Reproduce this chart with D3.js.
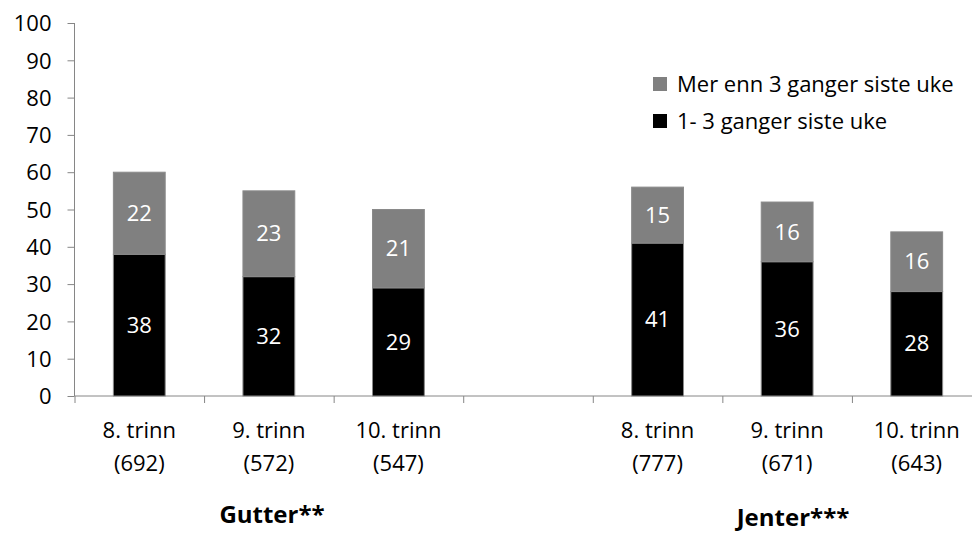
<!DOCTYPE html>
<html>
<head>
<meta charset="utf-8">
<script src="https://cdn.jsdelivr.net/npm/d3@7"></script>
<style>
  html, body { margin: 0; padding: 0; background: #fff; }
  svg text { font-family: "Open Sans", sans-serif; }
</style>
</head>
<body>
<svg id="chart" width="972" height="534"></svg>
<script>
// Stacked bars: share of pupils per grade, boys and girls
const groups = ["Gutter**", "Jenter***"];
const grades = ["8. trinn", "9. trinn", "10. trinn"];
const counts = ["(692)", "(572)", "(547)", "(777)", "(671)", "(643)"];
const seriesNames = ["Mer enn 3 ganger siste uke", "1- 3 ganger siste uke"];
const oneToThree = [38, 32, 29, 41, 36, 28];
const moreThanThree = [22, 23, 21, 15, 16, 16];
const yTicks = [0, 10, 20, 30, 40, 50, 60, 70, 80, 90, 100];

const svg = d3.select("#chart");
const axisColor = "#868686";
const fontSize = 22;

// Seven slots: three grades for boys, an empty slot, three grades for girls
const slots = ["g0", "g1", "g2", "gap", "j0", "j1", "j2"];
const barSlots = ["g0", "g1", "g2", "j0", "j1", "j2"];
const plotLeft = 74.5, plotRight = 981.5, plotTop = 23, plotBottom = 396;

const x = d3.scaleBand().domain(slots).range([plotLeft, plotRight])
  .paddingInner(0.6).paddingOuter(0.3);
const xEdge = d3.scaleLinear().domain([0, slots.length]).range([plotLeft, plotRight]);
const y = d3.scaleLinear().domain([0, 100]).range([plotBottom, plotTop]);

// Y axis
const yAxis = svg.append("g")
  .attr("transform", `translate(${plotLeft},0)`)
  .call(d3.axisLeft(y).tickValues(yTicks).tickSize(7).tickPadding(16));
yAxis.select(".domain").attr("stroke", axisColor).attr("d", `M0,${plotTop}V${plotBottom}`);
yAxis.selectAll(".tick line").attr("stroke", axisColor);
yAxis.selectAll(".tick text")
  .attr("fill", "#000").attr("font-size", fontSize)
  .attr("font-family", "Open Sans, sans-serif").attr("dy", "0.35em");

// X axis with ticks at slot boundaries
const xAxis = svg.append("g")
  .attr("transform", `translate(0,${plotBottom})`)
  .call(d3.axisBottom(xEdge).tickValues(d3.range(slots.length + 1)).tickSize(7).tickFormat(""));
xAxis.select(".domain").attr("stroke", axisColor).attr("d", `M${plotLeft},0H${plotRight}`);
xAxis.selectAll(".tick line").attr("stroke", axisColor);

// Stack layout
const rows = barSlots.map((s, i) => ({ slot: s, low: oneToThree[i], high: moreThanThree[i] }));
const stack = d3.stack().keys(["low", "high"])(rows);
const fills = { low: "#000000", high: "#808080" };

const layers = svg.append("g").selectAll("g")
  .data(stack).join("g")
  .attr("fill", d => fills[d.key]);

layers.selectAll("rect")
  .data(d => d)
  .join("rect")
  .attr("x", d => x(d.data.slot))
  .attr("width", x.bandwidth())
  .attr("y", d => y(d[1]))
  .attr("height", d => y(d[0]) - y(d[1]))
  .attr("stroke", "#8a8a8a")
  .attr("stroke-width", 1);

// Value labels inside the segments
layers.selectAll("text")
  .data(d => d)
  .join("text")
  .attr("x", d => x(d.data.slot) + x.bandwidth() / 2)
  .attr("y", d => (y(d[0]) + y(d[1])) / 2)
  .attr("dy", "0.35em")
  .attr("text-anchor", "middle")
  .attr("fill", "#fff")
  .attr("font-size", fontSize)
  .text(d => d[1] - d[0]);

// Category labels: grade and number of respondents
const cats = svg.append("g").selectAll("text")
  .data(barSlots).join("text")
  .attr("text-anchor", "middle")
  .attr("font-size", fontSize)
  .attr("fill", "#000");
cats.append("tspan")
  .attr("x", s => x(s) + x.bandwidth() / 2)
  .attr("y", 438)
  .text((s, i) => grades[i % 3]);
cats.append("tspan")
  .attr("x", s => x(s) + x.bandwidth() / 2)
  .attr("y", 471)
  .text((s, i) => counts[i]);

// Group labels
const groupPos = [
  { cx: 272, yb: 523 },
  { cx: 793, yb: 526 }
];
svg.append("g").selectAll("text")
  .data(groups).join("text")
  .attr("x", (d, i) => groupPos[i].cx)
  .attr("y", (d, i) => groupPos[i].yb)
  .attr("text-anchor", "middle")
  .attr("font-size", 24)
  .attr("font-weight", "bold")
  .attr("fill", "#000")
  .text(d => d);

// Legend
const legendColors = ["#808080", "#000000"];
const legend = svg.append("g").selectAll("g")
  .data(seriesNames).join("g")
  .attr("transform", (d, i) => `translate(653,${77 + i * 37})`);
legend.append("rect")
  .attr("width", 14).attr("height", 14)
  .attr("fill", (d, i) => legendColors[i]);
legend.append("text")
  .attr("x", 24).attr("y", 15)
  .attr("font-size", fontSize)
  .attr("fill", "#000")
  .text(d => d);
</script>
</body>
</html>
